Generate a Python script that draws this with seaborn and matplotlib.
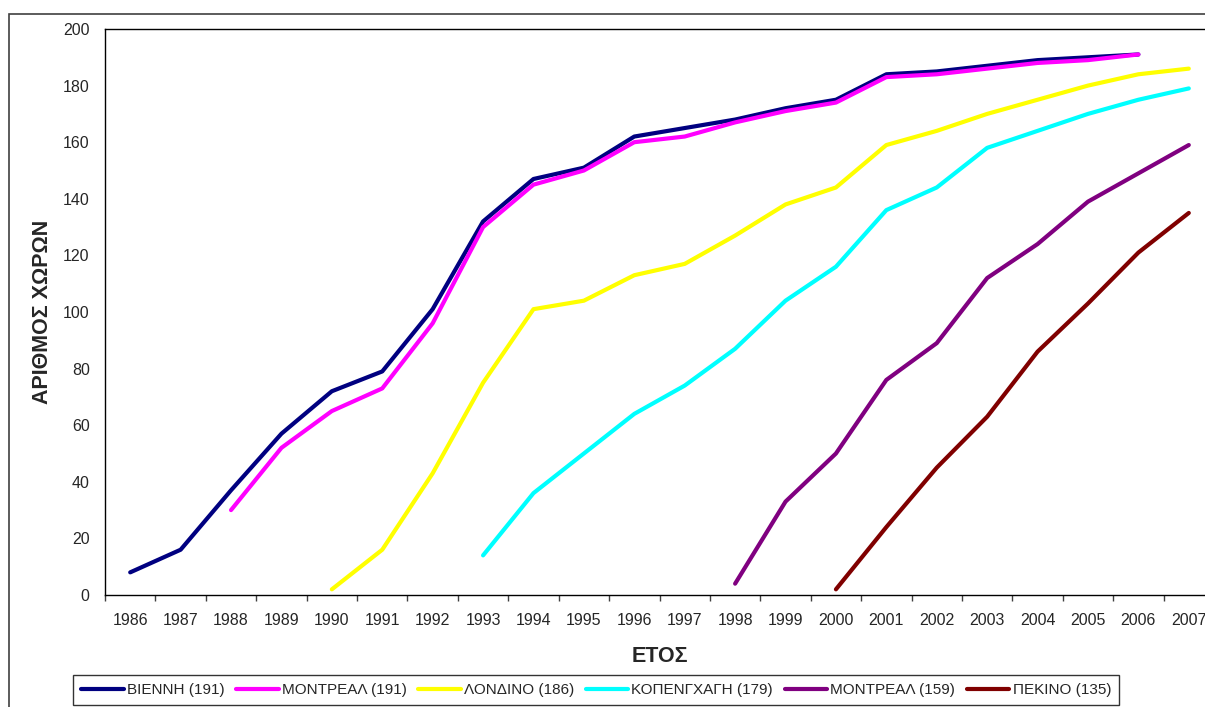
import numpy as np
import pandas as pd
import matplotlib
matplotlib.use("Agg")
import matplotlib.pyplot as plt
import seaborn as sns
from matplotlib.patches import Rectangle

# Cumulative number of countries per year for each city
years = list(range(1986, 2008))
vienna = [8, 16, 37, 57, 72, 79, 101, 132, 147, 151, 162, 165, 168, 172, 175,
          184, 185, 187, 189, 190, 191, None]
montreal_a = [None, None, 30, 52, 65, 73, 96, 130, 145, 150, 160, 162, 167,
              171, 174, 183, 184, 186, 188, 189, 191, None]
london = [None] * 4 + [2, 16, 43, 75, 101, 104, 113, 117, 127, 138, 144, 159,
                       164, 170, 175, 180, 184, 186]
copenhagen = [None] * 7 + [14, 36, 50, 64, 74, 87, 104, 116, 136, 144, 158,
                           164, 170, 175, 179]
montreal_b = [None] * 12 + [4, 33, 50, 76, 89, 112, 124, 139, 149, 159]
beijing = [None] * 14 + [2, 24, 45, 63, 86, 103, 121, 135]

series_names = ["ΒΙΕΝΝΗ (191)", "ΜΟΝΤΡΕΑΛ (191)", "ΛΟΝΔΙΝΟ (186)",
                "ΚΟΠΕΝΓΧΑΓΗ (179)", "ΜΟΝΤΡΕΑΛ (159)", "ΠΕΚΙΝΟ (135)"]
series_values = [vienna, montreal_a, london, copenhagen, montreal_b, beijing]
colors = ["#000080", "#FF00FF", "#FFFF00", "#00FFFF", "#800080", "#800000"]

rows = []
for name, vals in zip(series_names, series_values):
    for i, v in enumerate(vals):
        if v is not None:
            rows.append({"pos": i, "year": years[i], "count": v, "city": name})
df = pd.DataFrame(rows)

sns.set_style("white")
plt.rcParams["font.family"] = ["Liberation Sans", "DejaVu Sans"]

W, H = 1205, 707
fig = plt.figure(figsize=(W / 100, H / 100), dpi=100)

# outer chart frame
fig.patches.append(Rectangle((9 / W, -0.2), 1.5, 1 - 14 / H + 0.2,
                             transform=fig.transFigure, fill=False,
                             edgecolor="#404040", linewidth=1.2, zorder=0))

ax = fig.add_axes([105 / W, 1 - 595 / H, 1109 / W, (595 - 29) / H])
ax.set_facecolor("white")

sns.lineplot(data=df, x="pos", y="count", hue="city", hue_order=series_names,
             palette=colors, linewidth=3.0, ax=ax, legend=True,
             solid_capstyle="round", sort=True)

ax.set_xlim(-0.5, len(years) - 0.5)
ax.set_ylim(0, 200)
ax.set_yticks(np.arange(0, 201, 20))
ax.set_xticks(range(len(years)))
ax.set_xticklabels([str(y) for y in years])
ax.set_xticks(np.arange(-0.5, len(years), 1.0), minor=True)
ax.tick_params(axis="x", which="major", length=0, pad=13, labelsize=11.5)
ax.tick_params(axis="x", which="minor", length=4, width=1, color="#404040",
               direction="out", bottom=True)
ax.tick_params(axis="y", length=0, pad=11, labelsize=11.5)

for side in ["left", "top", "bottom"]:
    ax.spines[side].set_visible(True)
    ax.spines[side].set_color("black")
    ax.spines[side].set_linewidth(1.0)
ax.spines["right"].set_visible(False)

ax.set_xlabel("ΕΤΟΣ", fontsize=15.5, fontweight="bold", labelpad=13)
ax.set_ylabel("ΑΡΙΘΜΟΣ ΧΩΡΩΝ", fontsize=15.5, fontweight="bold", labelpad=7)

handles, labels = ax.get_legend_handles_labels()
ax.get_legend().remove()
leg = fig.legend(handles, labels, ncol=6, loc="center",
                 bbox_to_anchor=(596 / W, 1 - 690 / H),
                 frameon=True, fancybox=False, edgecolor="black",
                 fontsize=11, handlelength=2.8, handletextpad=0.2,
                 columnspacing=0.75, borderpad=0.55)
leg.get_frame().set_linewidth(1.0)
for line in leg.get_lines():
    line.set_linewidth(3.0)

fig.savefig("out.png", dpi=100)
